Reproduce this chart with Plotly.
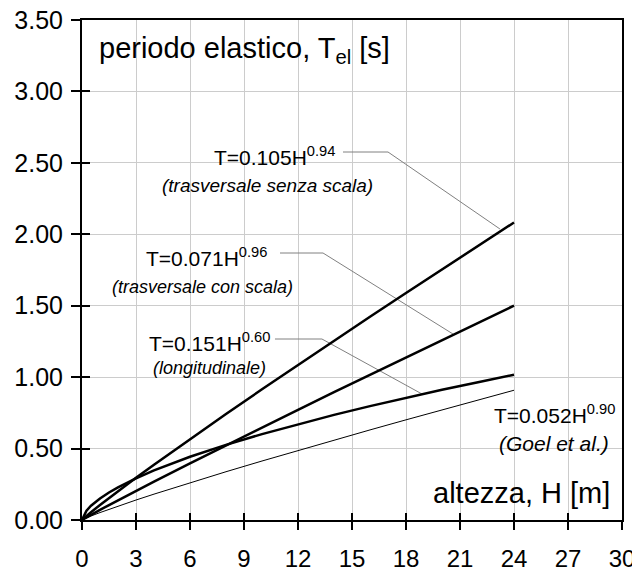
import plotly.graph_objects as go

# Heights H [m] at which the curves were read
H = [0, 0.25, 0.5, 1, 1.5, 2, 3, 4, 6, 8, 10, 12, 14, 16, 18, 20, 22, 24]
# T=0.105H^0.94 (trasversale senza scala)
T_senza = [0, 0.0285, 0.0547, 0.105, 0.1537, 0.2014, 0.2949, 0.3865, 0.5657, 0.7415,
           0.9146, 1.0855, 1.2548, 1.4225, 1.5892, 1.7547, 1.9192, 2.0827]
# T=0.071H^0.96 (trasversale con scala)
T_con = [0, 0.0188, 0.0365, 0.071, 0.1048, 0.1381, 0.2038, 0.2687, 0.3966, 0.5226,
         0.6475, 0.7713, 0.8945, 1.0168, 1.1386, 1.2597, 1.3803, 1.5007]
# T=0.151H^0.60 (longitudinale)
T_long = [0, 0.0657, 0.0996, 0.151, 0.1926, 0.2289, 0.2919, 0.3469, 0.4425, 0.5258,
          0.6011, 0.6706, 0.7357, 0.7970, 0.8553, 0.9112, 0.9648, 1.0167]
# T=0.052H^0.90 (Goel et al.)
T_goel = [0, 0.0149, 0.0279, 0.052, 0.0749, 0.0970, 0.1398, 0.1811, 0.2608, 0.3379,
          0.4130, 0.4867, 0.5592, 0.6306, 0.7011, 0.7708, 0.8398, 0.9083]

x_ticks = [0, 3, 6, 9, 12, 15, 18, 21, 24, 27, 30]
y_ticks = [0, 0.5, 1.0, 1.5, 2.0, 2.5, 3.0, 3.5]

# leader lines (label -> curve)
lead1_x = [14.5, 17.0, 23.22]
lead1_y = [2.576, 2.576, 2.037]
lead2_x = [11.0, 13.39, 20.61]
lead2_y = [1.869, 1.869, 1.302]
lead3_x = [10.72, 13.33, 18.89]
lead3_y = [1.267, 1.267, 0.882]

FONT = "Liberation Sans, Arial, sans-serif"

fig = go.Figure()
for lx, ly in [(lead1_x, lead1_y), (lead2_x, lead2_y), (lead3_x, lead3_y)]:
    fig.add_trace(go.Scatter(x=lx, y=ly, mode="lines",
                             line=dict(color="#808080", width=1),
                             showlegend=False, hoverinfo="skip"))
fig.add_trace(go.Scatter(x=H, y=T_goel, mode="lines", line=dict(color="black", width=1), showlegend=False))
fig.add_trace(go.Scatter(x=H, y=T_long, mode="lines", line=dict(color="black", width=2.5), showlegend=False))
fig.add_trace(go.Scatter(x=H, y=T_con, mode="lines", line=dict(color="black", width=2.5), showlegend=False))
fig.add_trace(go.Scatter(x=H, y=T_senza, mode="lines", line=dict(color="black", width=2.5), showlegend=False))
# invisible trace on overlay axes (inner tick marks)
fig.add_trace(go.Scatter(x=[None], y=[None], xaxis="x2", yaxis="y2", showlegend=False, hoverinfo="skip"))

ann = []
def add(text, x, y, size, xanchor="center", italic=False):
    ann.append(dict(text=text, x=x, y=y, xref="x", yref="y", showarrow=False,
                    xanchor=xanchor, yanchor="middle",
                    font=dict(family=FONT, size=size, color="black",
                              style="italic" if italic else "normal")))

add("periodo elastico, T<sub>el</sub> [s]", 0.83, 3.29, 29, "left")
add("altezza, H [m]", 29.44, 0.19, 29, "right")
add("T=0.105H<sup>0.94</sup>", 10.72, 2.55, 21)
add("(trasversale senza scala)", 10.3, 2.345, 19, italic=True)
add("T=0.071H<sup>0.96</sup>", 6.94, 1.84, 21)
add("(trasversale con scala)", 6.72, 1.631, 18, italic=True)
add("T=0.151H<sup>0.60</sup>", 7.11, 1.245, 21)
add("(longitudinale)", 7.11, 1.064, 18, italic=True)
add("T=0.052H<sup>0.90</sup>", 29.72, 0.74, 21, "right")
add("(Goel et al.)", 29.39, 0.539, 21, "right", italic=True)

fig.update_layout(
    width=640, height=571,
    margin=dict(l=74, r=26, t=12, b=59),
    paper_bgcolor="white", plot_bgcolor="white",
    font=dict(family=FONT, color="black"),
    annotations=ann,
    xaxis=dict(range=[0, 30], tickvals=x_ticks, ticktext=[str(v) for v in x_ticks],
               ticks="outside", ticklen=8, tickwidth=1.5, tickcolor="black",
               showline=True, linewidth=2, linecolor="black", mirror=True,
               showgrid=True, gridcolor="#cccccc", gridwidth=1, zeroline=False,
               automargin=False, ticklabelstandoff=8, ticklabeloverflow="allow",
               tickfont=dict(size=24, family=FONT)),
    yaxis=dict(range=[0, 3.5], tickvals=y_ticks, ticktext=["%.2f" % v for v in y_ticks],
               ticks="outside", ticklen=9, tickwidth=1.5, tickcolor="black",
               showline=True, linewidth=2, linecolor="black", mirror=True,
               showgrid=True, gridcolor="#cccccc", gridwidth=1, zeroline=False,
               automargin=False, ticklabelstandoff=3, ticklabeloverflow="allow",
               tickfont=dict(size=25, family=FONT)),
    xaxis2=dict(range=[0, 30], overlaying="x", tickvals=x_ticks, ticks="inside", ticklen=7,
                tickwidth=1.5, tickcolor="black", showticklabels=False, showgrid=False,
                zeroline=False, showline=False, automargin=False),
    yaxis2=dict(range=[0, 3.5], overlaying="y", tickvals=y_ticks, ticks="inside", ticklen=8,
                tickwidth=1.5, tickcolor="black", showticklabels=False, showgrid=False,
                zeroline=False, showline=False, automargin=False),
)

fig.write_html("out.html")
